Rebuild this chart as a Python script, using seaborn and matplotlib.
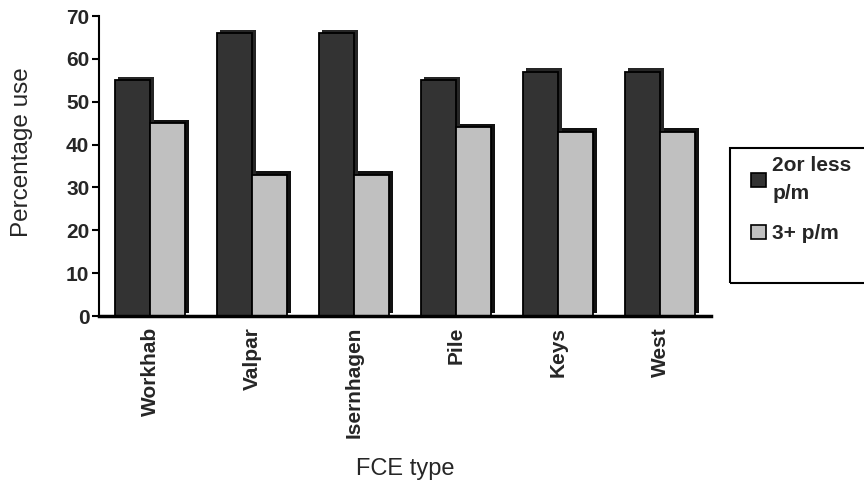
import pandas as pd
import seaborn as sns
import matplotlib.pyplot as plt
from matplotlib.patches import Rectangle
from matplotlib import patheffects

fce_types = ["Workhab", "Valpar", "Isernhagen", "Pile", "Keys", "West"]
two_or_less = [55, 66, 66, 55, 57, 57]
three_plus = [45, 33, 33, 44, 43, 43]
series_names = ["2or less\np/m", "3+ p/m"]
y_ticks = [0, 10, 20, 30, 40, 50, 60, 70]

df = pd.DataFrame({
    "FCE type": fce_types * 2,
    "Percentage use": two_or_less + three_plus,
    "group": [series_names[0]] * len(fce_types) + [series_names[1]] * len(fce_types),
})

sns.set_theme(style="white")
plt.rcParams['font.family'] = ['Liberation Sans', 'DejaVu Sans']

fig = plt.figure(figsize=(8.64, 4.84), dpi=100)
ax = fig.add_axes([99 / 864, 1 - 316 / 484, 612 / 864, 300 / 484])

sns.barplot(ax=ax, data=df, x="FCE type", y="Percentage use", hue="group",
            palette=["#333333", "#c0c0c0"], saturation=1, width=0.69,
            edgecolor="black", linewidth=1.3, legend=True)

# fake the excel 3d depth with a shadow offset up and right
n = len(fce_types)
for i, bar in enumerate(ax.patches[:2 * n]):
    shade = "#262626" if i < n else "#111111"
    bar.set_path_effects([
        patheffects.SimplePatchShadow(offset=(2.6, 2.4), shadow_rgbFace=shade, alpha=1.0),
        patheffects.Normal(),
    ])

ax.set_ylim(0, 70)
ax.set_yticks(y_ticks)
ax.set_xlim(-0.5, len(fce_types) - 0.5)

for side in ["top", "right"]:
    ax.spines[side].set_visible(False)
ax.spines["left"].set_linewidth(1.5)
ax.spines["left"].set_color("black")
ax.spines["bottom"].set_linewidth(2.5)
ax.spines["bottom"].set_color("black")

ax.tick_params(axis="y", direction="out", length=5, width=1.5, color="black",
               left=True, labelsize=15, pad=2)
ax.tick_params(axis="x", length=0, labelsize=15, pad=8)
for lab in ax.get_yticklabels():
    lab.set_fontweight("bold")
for lab in ax.get_xticklabels():
    lab.set_fontweight("bold")
    lab.set_rotation(90)
    lab.set_va("top")

ax.set_ylabel("Percentage use", fontsize=17.5)
ax.yaxis.set_label_coords(-0.108, 0.547)
ax.set_xlabel("FCE type", fontsize=17, labelpad=14)

# legend box, as in the original it runs off the right edge
handles, labels = ax.get_legend_handles_labels()
ax.legend_.remove()
fig.patches.append(Rectangle((730 / 864, 1 - 283 / 484), 0.2, 135 / 484,
                             transform=fig.transFigure, fill=False,
                             edgecolor="black", linewidth=1.5))
leg = fig.legend(handles, labels, loc="upper left",
                 bbox_to_anchor=(741 / 864, 1 - 146 / 484), frameon=False,
                 prop={"size": 15, "weight": "bold"}, handlelength=0.7,
                 handleheight=0.7, handletextpad=0.3, labelspacing=1.0,
                 borderpad=0)
for t in leg.get_texts():
    t.set_linespacing(1.6)
for h in leg.legend_handles:
    h.set_path_effects([])
    h.set_linewidth(1.2)

fig.savefig("out.png", dpi=100)
